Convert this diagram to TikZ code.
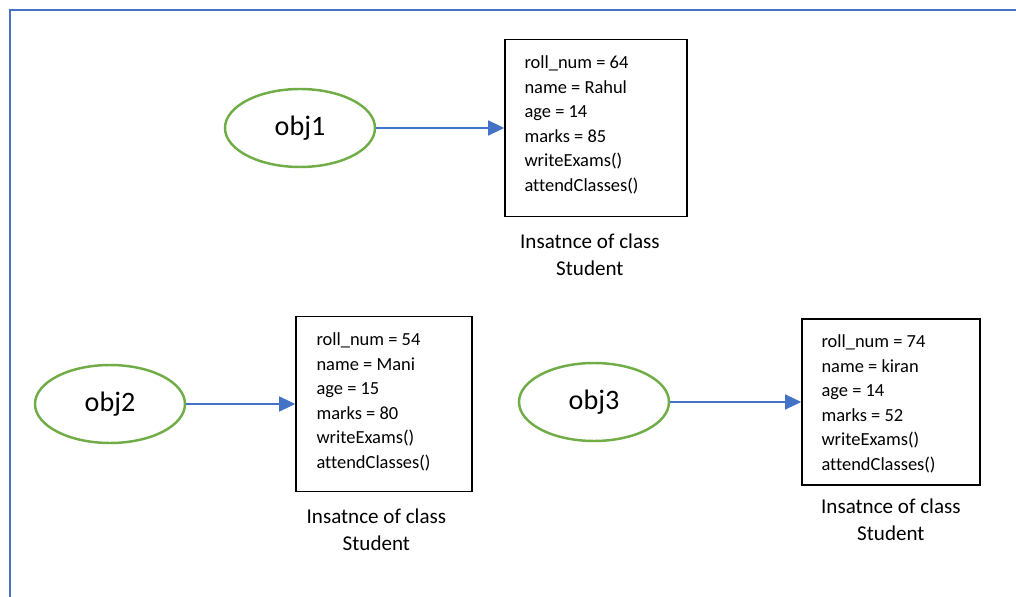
\documentclass[tikz,border=0pt]{standalone}
\usepackage{fontspec}
\setmainfont[Ligatures=NoCommon]{Carlito}
\usetikzlibrary{positioning,shapes.geometric,arrows.meta}
\definecolor{objgreen}{HTML}{70AD47}
\definecolor{linkblue}{HTML}{4472C4}
\begin{document}
\begin{tikzpicture}[x=0.02cm,y=-0.02cm,
  obj/.style={ellipse,draw=objgreen,line width=1.4pt,minimum width=3cm,minimum height=1.56cm,inner sep=0pt,font=\fontsize{16}{19}\selectfont},
  inst/.style={draw,line width=0.8pt,inner sep=0pt},
  attrs/.style={align=left,inner sep=0pt,anchor=north west,font=\fontsize{10.5}{14}\selectfont},
  caption/.style={align=center,inner sep=0pt,font=\fontsize{12}{15.3}\selectfont},
  link/.style={color=linkblue,line width=0.7pt,-{Triangle[length=3.2mm,width=3mm]}}]
\useasboundingbox (0,0) rectangle (1016,597);
\draw[linkblue,line width=1.1pt] (10,597) -- (10,10) -- (1016,10);

\node[obj] (obj1) at (300,128) {obj1};
\node[inst,minimum width=3.64cm,minimum height=3.54cm,right=2.56cm of obj1] (box1) {};
\node[attrs] (attr1) at ([shift={(0.4cm,-0.33cm)}]box1.north west) {roll\_num = 64\\name = Rahul\\age = 14\\marks = 85\\writeExams()\\attendClasses()};
\node[caption,below=3.2mm of box1,xshift=-1.2mm] (cap1) {Insatnce of class\\Student};

\node[obj] (obj2) at (110,404) {obj2};
\node[inst,minimum width=3.52cm,minimum height=3.5cm,right=2.18cm of obj2] (box2) {};
\node[attrs] (attr2) at ([shift={(0.42cm,-0.33cm)}]box2.north west) {roll\_num = 54\\name = Mani\\age = 15\\marks = 80\\writeExams()\\attendClasses()};
\node[caption,below=3.2mm of box2,xshift=-1.5mm] (cap2) {Insatnce of class\\Student};

\node[obj] (obj3) at (594,402) {obj3};
\node[inst,minimum width=3.56cm,minimum height=3.32cm,right=2.62cm of obj3] (box3) {};
\node[attrs] (attr3) at ([shift={(0.4cm,-0.32cm)}]box3.north west) {roll\_num = 74\\name = kiran\\age = 14\\marks = 52\\writeExams()\\attendClasses()};
\node[caption,below=2.6mm of box3] (cap3) {Insatnce of class\\Student};

\path[link] (obj1) edge (box1);
\path[link] (obj2) edge (box2);
\path[link] (obj3) edge (box3);
\end{tikzpicture}
\end{document}
